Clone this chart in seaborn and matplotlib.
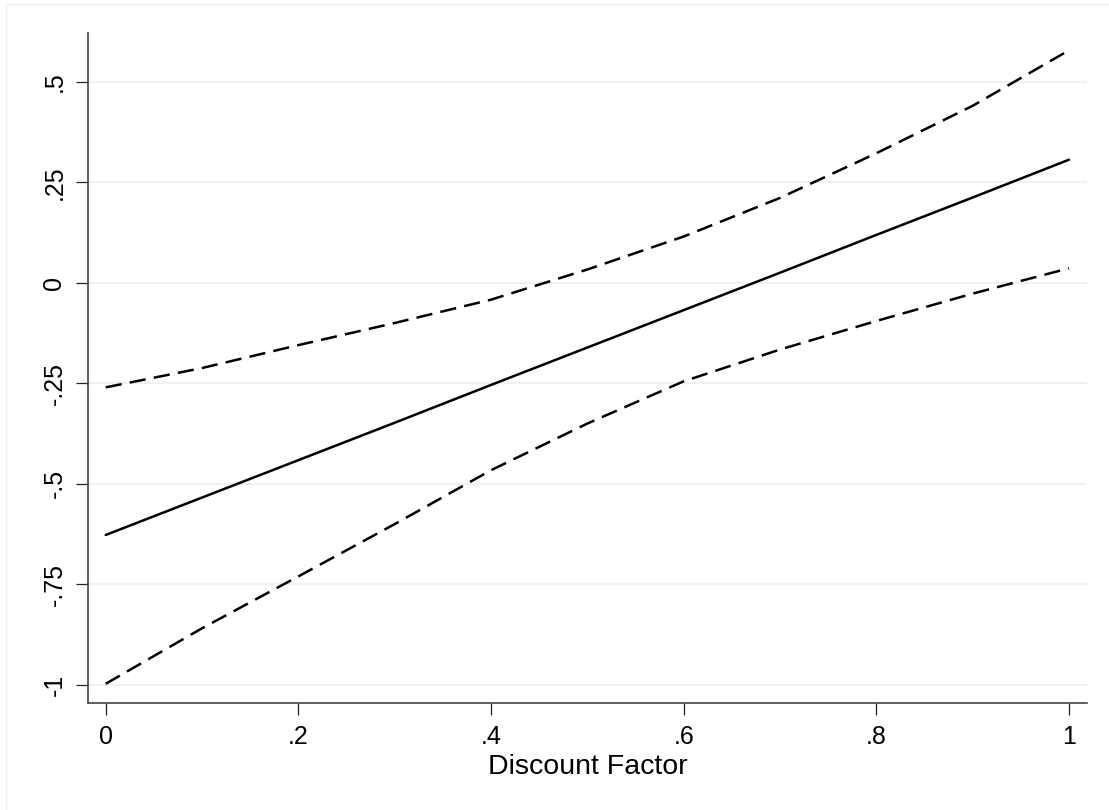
import numpy as np
import pandas as pd
import matplotlib
matplotlib.use("Agg")
import matplotlib.pyplot as plt
import seaborn as sns
from matplotlib.lines import Line2D

# values
discount = [0.0, 0.1, 0.2, 0.3, 0.4, 0.5, 0.6, 0.7, 0.8, 0.9, 1.0]
fitted = [-0.627, -0.534, -0.441, -0.348, -0.254, -0.161, -0.068, 0.025, 0.119, 0.212, 0.306]
upper_ci = [-0.260, -0.212, -0.155, -0.100, -0.042, 0.033, 0.115, 0.211, 0.322, 0.440, 0.578]
lower_ci = [-0.997, -0.859, -0.730, -0.600, -0.466, -0.350, -0.245, -0.166, -0.095, -0.027, 0.036]

x_ticks = [0, 0.2, 0.4, 0.6, 0.8, 1.0]
x_labels = ["0", ".2", ".4", ".6", ".8", "1"]
y_ticks = [-1, -0.75, -0.5, -0.25, 0, 0.25, 0.5]
y_labels = ["-1", "-.75", "-.5", "-.25", "0", ".25", ".5"]

sns.set_theme(style="white")
plt.rcParams["font.family"] = ["Liberation Sans", "DejaVu Sans"]

df = pd.DataFrame({"discount": discount, "fitted": fitted,
                   "upper": upper_ci, "lower": lower_ci})

W, H = 1109, 810
fig = plt.figure(figsize=(W / 100, H / 100), dpi=100)
ax = fig.add_axes([88 / W, (H - 703) / H, (1087 - 88) / W, (703 - 33) / H])

dash = (0, (6.5, 3.3))
sns.lineplot(data=df, x="discount", y="fitted", color="black", lw=1.8, ax=ax)
sns.lineplot(data=df, x="discount", y="upper", color="black", lw=1.8,
             linestyle=dash, ax=ax)
sns.lineplot(data=df, x="discount", y="lower", color="black", lw=1.8,
             linestyle=dash, ax=ax)

ax.set_xlim(-0.0184, 1.0187)
ax.set_ylim(-1.0448, 0.621)
ax.set_xticks(x_ticks, x_labels)
ax.set_yticks(y_ticks, y_labels)
for lab in ax.get_yticklabels():
    lab.set_rotation(90)
    lab.set_va("center")

ax.grid(axis="y", color="#eaf2f3", lw=1.6)
ax.set_axisbelow(True)
sns.despine(ax=ax)
for s in ["left", "bottom"]:
    ax.spines[s].set_color("#444444")
    ax.spines[s].set_linewidth(1.2)
ax.tick_params(axis="both", direction="out", length=8.5, width=0.9,
               color="#222222", labelsize=18, labelcolor="black", pad=7,
               left=True, bottom=True)
ax.set_xlabel("Discount Factor", fontsize=20.5, labelpad=4, color="black")
ax.set_ylabel("")

# faint outer frame edges of the graph region
fig.add_artist(Line2D([6 / W, 1], [1 - 4 / H, 1 - 4 / H], color="#eaf2f3", lw=1))
fig.add_artist(Line2D([6 / W, 6 / W], [0, 1 - 4 / H], color="#eaf2f3", lw=1))

fig.savefig("out.png", dpi=100)
